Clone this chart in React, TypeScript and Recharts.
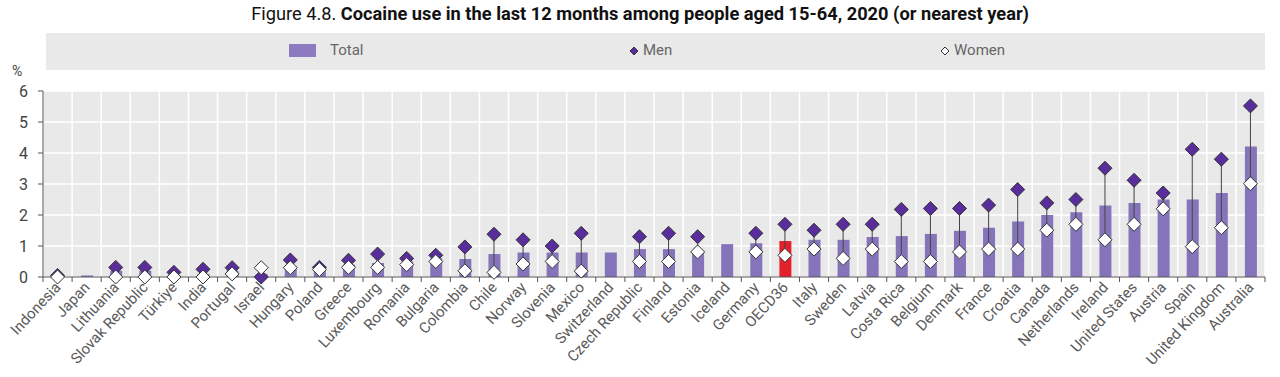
import React from 'react';
import { ComposedChart, Bar, Scatter, XAxis, YAxis, CartesianGrid, Cell, ErrorBar } from 'recharts';

const categories = ['Indonesia','Japan','Lithuania','Slovak Republic','Türkiye','India','Portugal','Israel','Hungary','Poland','Greece','Luxembourg','Romania','Bulgaria','Colombia','Chile','Norway','Slovenia','Mexico','Switzerland','Czech Republic','Finland','Estonia','Iceland','Germany','OECD36','Italy','Sweden','Latvia','Costa Rica','Belgium','Denmark','France','Croatia','Canada','Netherlands','Ireland','United States','Austria','Spain','United Kingdom','Australia'];
const total = [0.02,0.05,0.2,0.2,0.05,0.1,0.2,0.1,0.35,0.25,0.4,0.45,0.5,0.6,0.58,0.74,0.79,0.79,0.79,0.79,0.9,0.9,0.84,1.06,1.09,1.16,1.2,1.2,1.29,1.32,1.39,1.49,1.59,1.79,2.0,2.09,2.31,2.39,2.5,2.5,2.71,4.21];
const men: (number|null)[] = [0.05,null,0.31,0.31,0.15,0.25,0.3,0.0,0.55,0.31,0.54,0.74,0.6,0.7,0.97,1.38,1.2,1.0,1.41,null,1.3,1.41,1.3,null,1.41,1.7,1.51,1.7,1.7,2.18,2.21,2.21,2.32,2.82,2.39,2.5,3.51,3.12,2.71,4.12,3.8,5.52];
const women: (number|null)[] = [0.0,null,0.0,0.0,0.0,0.0,0.1,0.3,0.3,0.24,0.31,0.31,0.4,0.5,0.2,0.15,0.42,0.5,0.19,null,0.5,0.5,0.81,null,0.81,0.7,0.9,0.6,0.9,0.5,0.5,0.81,0.9,0.9,1.51,1.7,1.2,1.7,2.2,0.98,1.59,3.01];
const yTicks = [0,1,2,3,4,5,6];
const highlight = 'OECD36';

const data = categories.map((name, i) => ({
  name,
  total: total[i],
  men: men[i],
  women: women[i],
  err: men[i] != null && women[i] != null ? [Math.max(0, (men[i] as number) - (women[i] as number)), 0] : null,
}));

const W = 1280, H = 377;
const PLOT_L = 43, PLOT_R = 1265, PLOT_T = 91, PLOT_B = 277;
const STEP = (PLOT_R - PLOT_L) / categories.length;
const BAR_COLOR = '#8574BA';
const MEN_COLOR = '#5A2D9C';
const FONT = 'Roboto, "Liberation Sans", Arial, sans-serif';

const diamond = (cx: number, cy: number, r: number, fill: string) => (
  <polygon points={`${cx},${cy - r} ${cx + r},${cy} ${cx},${cy + r} ${cx - r},${cy}`} fill={fill} stroke="#333" strokeWidth={1} />
);

const MenShape = (p: any) => (p.payload?.men == null || isNaN(p.cy) ? <g /> : diamond(p.cx, p.cy, 7, MEN_COLOR));
const WomenShape = (p: any) => (p.payload?.women == null || isNaN(p.cy) ? <g /> : diamond(p.cx, p.cy, 7, '#ffffff'));

const XTick = (p: any) => {
  const { x, payload, index } = p;
  const left = x - STEP / 2;
  return (
    <g>
      <line x1={left} x2={left} y1={PLOT_B} y2={PLOT_B + 5} stroke="#555" />
      {index === categories.length - 1 && <line x1={x + STEP / 2} x2={x + STEP / 2} y1={PLOT_B} y2={PLOT_B + 5} stroke="#555" />}
      <text transform={`translate(${x + 4},${PLOT_B + 11}) rotate(-47)`} textAnchor="end" fontSize={15} fill="#5a5a5a" fontFamily={FONT}>{payload.value}</text>
    </g>
  );
};

export default function App() {
  return (
    <div style={{ position: 'absolute', left: 0, top: 0, width: W, height: H, background: '#fff', fontFamily: FONT }}>
      <div style={{ position: 'absolute', top: 2, left: 0, width: W, textAlign: 'center', fontSize: 19, color: '#111', whiteSpace: 'nowrap' }}>
        <span style={{ display: 'inline-block', transform: 'scaleX(0.96)', transformOrigin: '50% 50%' }}>
          Figure 4.8. <b>Cocaine use in the last 12 months among people aged 15-64, 2020 (or nearest year)</b>
        </span>
      </div>
      <div style={{ position: 'absolute', left: 46, top: 33, width: 1219, height: 37, background: '#E9E9E9' }} />
      <div style={{ position: 'absolute', left: 289, top: 44, width: 27, height: 13, background: '#8C7BC0' }} />
      <div style={{ position: 'absolute', left: 330, top: 41, fontSize: 15, color: '#666' }}>Total</div>
      <svg style={{ position: 'absolute', left: 629, top: 46 }} width={10} height={10}>{diamond(5, 5, 4, MEN_COLOR)}</svg>
      <div style={{ position: 'absolute', left: 643, top: 41, fontSize: 15, color: '#666' }}>Men</div>
      <svg style={{ position: 'absolute', left: 940, top: 46 }} width={10} height={10}>{diamond(5, 5, 4, '#fff')}</svg>
      <div style={{ position: 'absolute', left: 954, top: 41, fontSize: 15, color: '#666' }}>Women</div>
      <div style={{ position: 'absolute', left: 12, top: 63, fontSize: 14, color: '#444' }}>%</div>
      <div style={{ position: 'absolute', left: 0, top: 0 }}>
        <ComposedChart width={W} height={H} data={data} margin={{ top: PLOT_T, right: W - PLOT_R, left: 0, bottom: 0 }} barCategoryGap={0}>
          <CartesianGrid fill="#E9E9E9" stroke="#ffffff" strokeWidth={1.5}
            verticalCoordinatesGenerator={({ offset }: any) => categories.map((_, i) => offset.left + i * (offset.width / categories.length)).concat([offset.left + offset.width])} />
          <XAxis dataKey="name" type="category" interval={0} height={H - PLOT_B} tickLine={false} axisLine={{ stroke: '#555' }} tick={<XTick />} />
          <YAxis type="number" domain={[0, 6]} ticks={yTicks} width={PLOT_L} tickSize={5} tickMargin={10} axisLine={{ stroke: '#555' }} tickLine={{ stroke: '#555' }} tick={{ fontSize: 16, fill: '#444', fontFamily: FONT }} />
          <Bar dataKey="total" barSize={12} isAnimationActive={false}>
            {data.map((d) => <Cell key={d.name} fill={d.name === highlight ? '#E3212B' : BAR_COLOR} />)}
          </Bar>
          <Scatter dataKey="men" isAnimationActive={false} shape={MenShape}>
            <ErrorBar dataKey="err" direction="y" width={0} stroke="#444" strokeWidth={1} />
          </Scatter>
          <Scatter dataKey="women" isAnimationActive={false} shape={WomenShape} />
        </ComposedChart>
      </div>
    </div>
  );
}
